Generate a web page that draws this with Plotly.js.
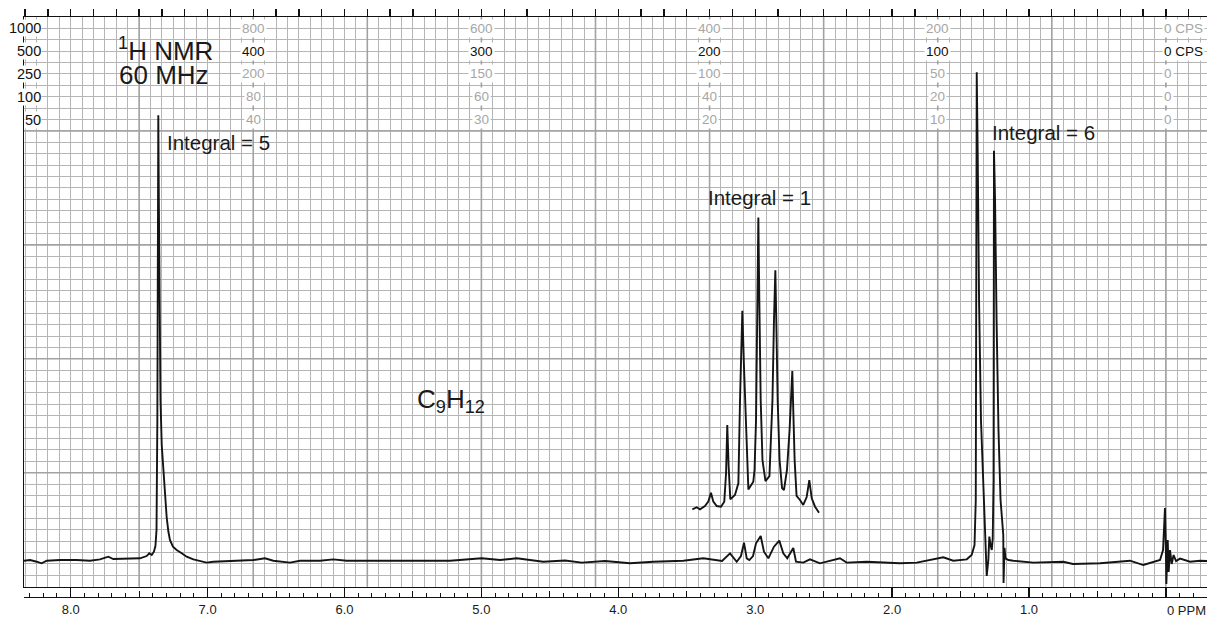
<!DOCTYPE html>
<html>
<head>
<meta charset="utf-8">
<script src="https://cdn.plot.ly/plotly-3.0.1.min.js"></script>
<style>html,body{margin:0;padding:0;background:#fff;}#chart{width:1207px;height:617px;}</style>
</head>
<body>
<div id="chart"></div>
<script>
// ---- spectrum (chemical shift in ppm, intensity in chart-grid units) ----
const ppm = [8.341, 8.297, 8.248, 8.212, 8.175, 8.078, 7.956, 7.859, 7.786, 7.725, 7.689, 7.591, 7.494, 7.445, 7.426, 7.408, 7.392, 7.381, 7.373, 7.367, 7.364, 7.360, 7.356, 7.351, 7.344, 7.335, 7.324, 7.311, 7.299, 7.286, 7.275, 7.253, 7.226, 7.189, 7.153, 7.104, 7.055, 7.007, 6.958, 6.812, 6.666, 6.581, 6.520, 6.398, 6.325, 6.179, 6.082, 5.984, 5.838, 5.717, 5.595, 5.229, 4.998, 4.864, 4.742, 4.548, 4.389, 4.267, 4.097, 3.915, 3.744, 3.525, 3.379, 3.294, 3.242, 3.184, 3.135, 3.104, 3.082, 3.062, 3.043, 3.016, 2.994, 2.960, 2.936, 2.904, 2.863, 2.824, 2.795, 2.766, 2.741, 2.722, 2.702, 2.649, 2.600, 2.527, 2.381, 2.332, 2.186, 1.942, 1.820, 1.736, 1.626, 1.553, 1.455, 1.419, 1.398, 1.389, 1.385, 1.382, 1.375, 1.365, 1.351, 1.332, 1.318, 1.309, 1.297, 1.290, 1.281, 1.272, 1.265, 1.259, 1.256, 1.248, 1.237, 1.223, 1.208, 1.195, 1.188, 1.186, 1.179, 1.172, 1.151, 1.115, 0.969, 0.749, 0.679, 0.481, 0.262, 0.165, 0.092, 0.043, 0.021, 0.012, 0.007, 0.001, -0.003, -0.013, -0.020, -0.030, -0.042, -0.056, -0.074, -0.103, -0.176, -0.249, -0.300];
const intensity = [2.28, 2.34, 2.19, 2.05, 2.28, 2.34, 2.34, 2.28, 2.40, 2.63, 2.43, 2.46, 2.49, 2.69, 2.93, 2.78, 3.07, 3.57, 4.97, 14.62, 28.66, 41.38, 33.92, 23.39, 16.38, 12.43, 10.24, 7.61, 6.11, 4.80, 4.10, 3.51, 3.22, 2.93, 2.63, 2.40, 2.28, 2.11, 2.19, 2.28, 2.34, 2.49, 2.28, 2.11, 2.28, 2.28, 2.40, 2.28, 2.28, 2.34, 2.28, 2.28, 2.49, 2.34, 2.49, 2.19, 2.30, 2.11, 2.25, 2.05, 2.19, 2.28, 2.49, 2.30, 2.25, 2.93, 2.19, 2.69, 3.86, 2.49, 2.34, 2.69, 3.81, 4.45, 3.07, 2.49, 3.51, 4.04, 2.93, 2.49, 3.07, 3.40, 2.19, 2.11, 2.40, 2.05, 2.49, 2.11, 2.19, 2.05, 2.11, 2.34, 2.58, 2.28, 2.40, 2.78, 3.66, 7.61, 25.15, 45.15, 38.31, 25.15, 14.62, 7.61, 3.66, 0.94, 2.34, 4.39, 3.66, 3.22, 4.25, 9.36, 38.25, 33.92, 23.39, 13.75, 7.61, 4.97, 4.54, 0.33, 3.40, 2.49, 2.34, 2.28, 2.11, 2.19, 1.99, 2.05, 2.28, 1.90, 2.19, 2.34, 3.22, 4.97, 6.90, 3.66, 0.24, 4.10, 1.29, 3.22, 1.99, 2.78, 2.25, 2.46, 2.19, 2.28, 2.25];

// ---- amplified, offset trace of the septet ----
const insetPpm = [3.459, 3.427, 3.403, 3.367, 3.343, 3.323, 3.306, 3.281, 3.250, 3.226, 3.213, 3.204, 3.194, 3.182, 3.148, 3.123, 3.111, 3.102, 3.094, 3.082, 3.067, 3.055, 3.050, 3.014, 3.005, 2.994, 2.985, 2.977, 2.970, 2.960, 2.947, 2.925, 2.896, 2.874, 2.863, 2.853, 2.846, 2.836, 2.822, 2.804, 2.790, 2.768, 2.749, 2.738, 2.729, 2.722, 2.712, 2.698, 2.673, 2.649, 2.624, 2.605, 2.587, 2.563, 2.534];
const insetIntensity = [6.79, 6.97, 6.79, 7.08, 7.46, 8.25, 7.46, 7.08, 7.02, 7.46, 9.95, 14.18, 10.53, 7.67, 8.04, 9.07, 16.38, 20.76, 24.21, 19.30, 13.46, 8.77, 8.54, 9.21, 10.24, 14.62, 23.39, 32.40, 25.15, 16.38, 11.11, 9.27, 9.71, 16.38, 23.39, 27.78, 23.39, 16.38, 11.11, 8.66, 8.48, 10.24, 13.75, 16.38, 18.92, 15.50, 11.11, 7.96, 7.61, 7.17, 7.87, 9.36, 7.75, 7.02, 6.49];

// ---- scales ----
const ppmTicks = [8, 7, 6, 5, 4, 3, 2, 1, 0];
const ppmTickText = ['8.0', '7.0', '6.0', '5.0', '4.0', '3.0', '2.0', '1.0', ''];
const halfTicks = [8.5, 7.5, 6.5, 5.5, 4.5, 3.5, 2.5, 1.5, 0.5];
const sweepWidths = ['1000', '500', '250', '100', '50'];
const sweepRows = [49, 47, 45, 43, 41];
const activeSweep = 1;
const columnHz = [400, 300, 200, 100, 0];
const columnLabels = [
  ['800', '400', '200', '80', '40'],
  ['600', '300', '150', '60', '30'],
  ['400', '200', '100', '40', '20'],
  ['200', '100', '50', '20', '10'],
  ['0 CPS', '0 CPS', '0', '0', '0']
];
const spectrometerMHz = 60;

// ---- helpers for placing text only ----
const X0 = 8.5164, PXPERPPM = 136.9, YBASE = 586.7, PXPERUNIT = 11.4;
const px2ppm = x => X0 - x / PXPERPPM;
const px2u = y => (YBASE - y) / PXPERUNIT;
const FONT = 'Liberation Sans, Arial, Helvetica, sans-serif';
const xr = [8.341, -0.300];

const traces = [
  {x: ppm, y: intensity, type: 'scatter', mode: 'lines', line: {color: '#141414', width: 1.9}, hoverinfo: 'skip', xaxis: 'x', yaxis: 'y'},
  {x: insetPpm, y: insetIntensity, type: 'scatter', mode: 'lines', line: {color: '#141414', width: 1.9}, hoverinfo: 'skip', xaxis: 'x', yaxis: 'y'}
];

// darker chart-paper lines every 50 Hz and every 10 grid rows
const shapes = [];
for (let hz = 450; hz >= 0; hz -= 50) {
  shapes.push({type: 'line', xref: 'x', yref: 'y', x0: hz / spectrometerMHz, x1: hz / spectrometerMHz, y0: 0, y1: 50,
    layer: 'between', line: {color: '#a2a2a2', width: 1.6}});
}
for (let r = 10; r < 50; r += 10) {
  shapes.push({type: 'line', xref: 'x', yref: 'y', x0: xr[0], x1: xr[1], y0: r, y1: r,
    layer: 'between', line: {color: '#a2a2a2', width: 1.6}});
}

const annotations = [];
const gray = '#a6a6a6';
columnHz.forEach((hz, ci) => {
  columnLabels[ci].forEach((t, ri) => {
    const isZero = hz === 0;
    annotations.push({
      x: hz / spectrometerMHz, y: sweepRows[ri], xref: 'x', yref: 'y',
      text: t, showarrow: false, xanchor: isZero ? 'left' : 'center', yanchor: 'middle',
      xshift: isZero ? -4 : 0,
      font: {family: FONT, size: 13.5, color: ri === activeSweep ? '#111' : gray},
      bgcolor: '#ffffff', borderpad: 1
    });
  });
});
sweepWidths.forEach((t, ri) => {
  annotations.push({
    x: px2ppm(42), y: sweepRows[ri], xref: 'x', yref: 'y', text: t, showarrow: false,
    xanchor: 'right', yanchor: 'middle', font: {family: FONT, size: 14.5, color: '#111'},
    bgcolor: '#ffffff', borderpad: 0
  });
});
const txt = (text, xpx, ypx, size, xanchor) => ({
  x: px2ppm(xpx), y: px2u(ypx), xref: 'x', yref: 'y', text: text, showarrow: false,
  xanchor: xanchor || 'center', yanchor: 'middle', font: {family: FONT, size: size, color: '#1a1a1a'}
});
annotations.push(txt('<sup>1</sup>H NMR', 165.5, 49, 26));
annotations.push(txt(spectrometerMHz + ' MHz', 164.3, 75, 26));
annotations.push(txt('Integral = 5', 165, 142, 20.5, 'left'));
annotations.push(txt('Integral = 1', 706, 197, 20.5, 'left'));
annotations.push(txt('Integral = 6', 990, 132, 20.5, 'left'));
annotations.push(txt('C<sub>9</sub>H<sub>12</sub>', 451, 400, 26));
annotations.push({x: 0, y: 0, xref: 'x3', yref: 'paper', text: '0 PPM', showarrow: false,
  xanchor: 'left', yanchor: 'top', xshift: -1, yshift: -4, font: {family: FONT, size: 13, color: '#1a1a1a'}});

const layout = {
  width: 1207, height: 617,
  margin: {l: 24, r: 0, t: 17, b: 20, pad: 0},
  paper_bgcolor: '#ffffff', plot_bgcolor: '#ffffff',
  showlegend: false,
  font: {family: FONT, color: '#1a1a1a'},
  xaxis: {
    range: xr, showticklabels: false, ticks: '', zeroline: false,
    tickmode: 'linear', tick0: 0, dtick: 1 / 12,
    showgrid: true, gridcolor: '#b5b5b5', gridwidth: 1,
    showline: true, linecolor: '#111', linewidth: 1.5, fixedrange: true
  },
  xaxis2: {
    range: xr, overlaying: 'x', side: 'top', anchor: 'y',
    tickmode: 'linear', tick0: 0, dtick: 1 / 6, ticks: 'outside', ticklen: 7, tickwidth: 1.3, tickcolor: '#111',
    showticklabels: false, showgrid: false, zeroline: false,
    showline: true, linecolor: '#111', linewidth: 1.5, fixedrange: true
  },
  xaxis3: {
    range: xr, overlaying: 'x', anchor: 'free', position: 0, side: 'bottom',
    tickmode: 'array', tickvals: ppmTicks, ticktext: ppmTickText,
    ticks: 'inside', ticklen: 10, tickwidth: 1.3, tickcolor: '#111',
    minor: {tickmode: 'linear', tick0: 0, dtick: 0.1, ticks: 'inside', ticklen: 4, tickwidth: 1, tickcolor: '#111', showgrid: false},
    tickfont: {family: FONT, size: 13, color: '#1a1a1a'},
    showgrid: false, zeroline: false, showline: true, linecolor: '#111', linewidth: 1.3, fixedrange: true
  },
  xaxis4: {
    range: xr, overlaying: 'x', anchor: 'free', position: 0, side: 'bottom',
    tickmode: 'array', tickvals: halfTicks, ticks: 'inside', ticklen: 6, tickwidth: 1, tickcolor: '#111',
    showticklabels: false, showgrid: false, zeroline: false, showline: false, fixedrange: true
  },
  yaxis: {
    domain: [0.0178, 1], range: [0, 50], showticklabels: false, ticks: '', zeroline: false,
    tickmode: 'linear', tick0: 0, dtick: 1,
    showgrid: true, gridcolor: '#b5b5b5', gridwidth: 1,
    showline: true, linecolor: '#111', linewidth: 1.5, fixedrange: true
  },
  shapes: shapes,
  annotations: annotations
};

// invisible traces so the overlay axes are drawn
traces.push({x: [4], y: [25], xaxis: 'x2', yaxis: 'y', mode: 'markers', marker: {opacity: 0}, hoverinfo: 'skip'});
traces.push({x: [4], y: [25], xaxis: 'x3', yaxis: 'y', mode: 'markers', marker: {opacity: 0}, hoverinfo: 'skip'});
traces.push({x: [4], y: [25], xaxis: 'x4', yaxis: 'y', mode: 'markers', marker: {opacity: 0}, hoverinfo: 'skip'});

Plotly.newPlot('chart', traces, layout, {displayModeBar: false, staticPlot: true});
</script>
</body>
</html>
